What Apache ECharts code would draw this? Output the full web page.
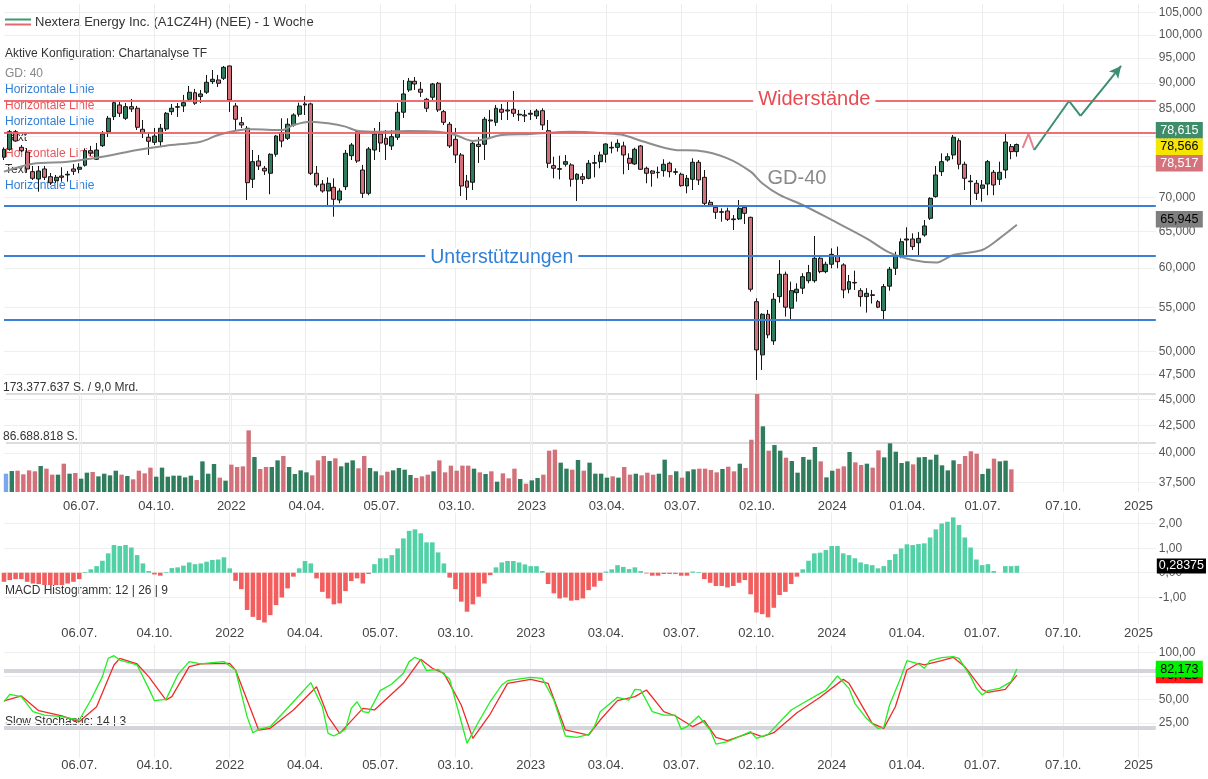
<!DOCTYPE html>
<html><head><meta charset="utf-8">
<script src="https://cdn.jsdelivr.net/npm/echarts@6/dist/echarts.min.js"></script>
<style>html,body{margin:0;padding:0;background:#fff}#c{width:1208px;height:779px}</style>
</head><body><div id="c"></div><script>
// ---------- categories (weekly) ----------
const startMonday = '2021-04-05';
const weekCount = 200;
const weeks = [];
{ const t0 = Date.parse(startMonday + 'T00:00:00Z');
  for (let i = 0; i < weekCount; i++) weeks.push(new Date(t0 + i * 7 * 86400000).toISOString().slice(0, 10)); }

const tickDates  = ['2021-07-05','2021-10-04','2022-01-03','2022-04-04','2022-07-04','2022-10-03','2023-01-02','2023-04-03','2023-07-03','2023-10-02','2024-01-01','2024-04-01','2024-07-01','2024-10-07','2025-01-06'];
const tickLabels = ['06.07.','04.10.','2022','04.04.','05.07.','03.10.','2023','03.04.','03.07.','02.10.','2024','01.04.','01.07.','07.10.','2025'];

// ---------- weekly candles [open, close, low, high] ----------
const candles = [
[76.46,77.81,76.01,78.15],[77.81,80.87,77.57,81.17],[80.87,79.24,79.12,81.17],[78.15,77.57,77.35,78.55],[77.35,74.53,74.04,78.04],
[74.09,73.02,72.75,75.02],[72.91,74.20,70.91,75.02],[74.53,73.18,72.75,75.02],[73.28,72.32,71.96,73.88],[72.64,73.18,72.28,73.56],
[73.39,73.18,72.48,74.81],[73.56,73.67,72.48,74.20],[74.53,74.15,73.56,75.35],[74.48,74.81,73.83,75.47],[75.14,77.57,74.91,77.98],
[77.57,77.18,76.68,78.38],[76.13,77.69,76.01,78.89],[78.43,80.47,78.20,80.99],[80.87,83.28,79.94,83.71],[83.58,86.18,82.97,86.50],
[85.75,84.20,83.52,86.31],[83.28,85.43,82.97,86.12],[85.43,85.00,84.44,86.88],[85.13,81.66,81.17,85.56],[81.30,80.59,79.76,82.97],
[79.89,79.19,76.85,80.82],[79.01,80.11,78.55,81.53],[79.12,81.48,78.20,82.25],[81.35,84.20,80.99,84.44],[84.50,85.13,83.89,85.94],
[85.32,85.43,83.52,86.12],[85.56,86.18,84.44,87.65],[86.82,88.17,86.50,89.39],[88.09,86.07,85.75,88.81],[87.33,87.84,86.12,88.61],
[88.17,90.12,87.84,91.57],[90.24,90.71,89.78,92.57],[90.57,89.92,89.19,91.57],[90.91,93.12,90.57,93.39],[93.39,86.69,84.44,93.50],
[85.56,83.10,81.17,86.12],[82.48,82.07,81.53,83.52],[81.48,72.32,69.63,81.89],[72.86,75.73,71.49,77.69],[75.84,75.02,74.36,76.85],
[74.64,74.20,73.56,75.02],[73.83,76.97,70.51,77.13],[76.97,80.11,76.56,80.29],[80.70,79.24,78.15,83.28],[79.71,82.20,79.41,83.28],
[82.07,83.89,81.77,84.20],[84.02,85.56,83.58,86.18],[85.75,85.94,83.89,87.46],[85.94,73.83,73.56,86.18],[73.83,71.96,71.60,75.02],
[72.10,71.02,70.76,72.75],[71.02,72.23,68.72,73.18],[71.60,69.74,67.13,73.02],[69.63,71.02,69.13,71.44],[71.69,77.13,71.17,77.69],
[76.73,78.55,76.01,78.89],[80.87,75.84,75.52,81.17],[74.36,70.66,69.94,75.19],[70.66,77.86,70.36,78.20],[77.69,80.47,76.01,81.53],
[80.47,78.89,77.35,82.61],[79.71,78.67,76.01,81.17],[78.38,79.99,77.69,81.17],[79.89,84.39,79.41,86.12],[84.39,87.84,83.34,90.57],
[88.61,90.32,88.22,90.97],[90.32,89.78,88.61,91.17],[88.75,88.17,87.27,90.18],[86.82,85.13,84.44,87.08],[87.21,89.78,86.69,89.98],
[89.92,84.81,84.44,90.18],[84.50,82.55,82.07,84.81],[82.20,78.38,78.04,82.61],[79.53,76.85,75.52,81.53],[76.85,71.80,70.25,77.18],
[72.59,71.60,69.63,73.56],[72.39,78.84,71.17,79.06],[78.67,78.30,75.52,79.94],[78.67,83.10,76.01,83.52],[82.97,82.79,79.76,84.81],
[82.55,85.13,81.89,85.75],[84.94,84.39,82.97,85.94],[84.81,84.62,82.97,86.31],[84.94,84.20,83.52,88.42],[83.89,84.02,82.79,84.81],
[83.89,83.71,82.61,84.81],[84.02,84.20,82.97,84.81],[83.71,84.62,83.15,85.00],[84.68,82.07,81.17,85.13],[81.05,75.47,74.69,82.97],
[75.07,74.64,73.02,76.56],[74.48,74.58,72.86,76.73],[75.30,75.73,74.91,76.85],[75.19,72.86,71.69,75.47],[72.86,73.67,69.48,73.83],
[73.28,72.86,72.12,73.83],[73.02,75.47,72.86,76.01],[75.47,75.57,73.18,76.85],[75.73,76.85,74.64,77.41],[76.97,78.72,75.57,78.84],
[78.15,78.04,77.13,79.12],[78.15,78.84,77.41,79.53],[78.38,76.85,73.67,79.12],[76.29,75.47,74.36,77.13],[75.35,77.81,75.19,78.09],
[78.38,74.48,74.36,78.55],[74.64,73.83,72.23,74.91],[74.20,73.83,71.69,74.36],[73.93,73.99,73.02,74.91],[74.25,75.30,73.28,76.13],
[75.47,74.09,73.18,75.73],[73.99,74.09,73.56,74.64],[73.67,71.85,71.69,73.93],[71.80,73.02,70.66,73.56],[72.86,75.63,71.17,76.29],
[75.63,72.75,71.96,76.01],[73.18,69.13,68.77,74.36],[69.28,68.87,68.77,69.63],[68.53,67.78,66.80,68.87],[67.78,67.87,66.40,68.37],
[67.97,66.75,66.50,68.47],[66.80,66.70,65.20,67.38],[66.80,68.37,66.65,69.63],[68.53,67.63,66.07,68.72],[67.04,57.27,56.97,67.13],
[55.73,50.14,46.95,56.14],[49.60,54.21,47.99,54.33],[54.21,51.82,51.44,54.73],[51.14,56.03,50.70,56.79],[56.35,59.18,55.61,61.06],
[59.18,55.06,53.94,59.52],[54.94,57.09,53.62,58.23],[56.84,57.27,55.73,58.02],[57.40,58.87,56.67,59.31],[58.35,59.39,58.02,60.40],
[58.35,61.29,58.09,64.35],[61.29,59.52,59.31,61.51],[59.52,60.49,59.31,60.83],[60.49,61.82,59.96,62.64],[61.60,60.83,59.96,62.87],
[60.40,57.18,56.15,60.62],[57.27,58.23,56.76,59.09],[58.13,58.06,57.18,59.65],[57.09,56.35,55.13,57.40],[56.35,56.76,54.41,57.40],
[56.58,56.50,55.50,57.18],[55.73,55.06,54.94,55.94],[54.65,57.60,53.62,57.94],[57.65,59.83,57.09,60.14],[59.96,61.60,59.09,62.17],
[61.60,63.55,61.29,64.02],[63.79,63.93,61.64,65.59],[63.93,62.87,62.41,64.72],[63.41,64.02,61.69,64.91],[64.49,65.78,64.25,66.65],
[66.90,69.89,66.65,70.05],[70.15,73.56,69.99,75.02],[74.09,75.73,73.39,77.13],[76.01,76.56,75.73,77.13],[76.85,79.89,76.13,80.29],
[79.29,75.30,74.48,79.71],[75.30,73.02,71.17,75.73],[72.59,72.48,68.87,73.56],[72.23,70.66,69.63,72.75],[71.44,71.96,69.37,72.75],
[72.12,75.73,70.36,76.01],[73.99,71.96,70.36,74.36],[72.86,73.99,71.96,75.73],[74.36,79.06,73.02,80.47],[78.27,77.41,76.13,78.72],
[77.41,78.62,76.56,78.80]
];

// ---------- weekly volume (million shares) ----------
const volumes = [
32.4,37.1,37.7,31.3,38.3,36.6,46.0,41.3,30.7,30.7,
50.1,32.4,33.6,23.6,34.2,35.4,27.7,32.4,29.5,37.7,
30.7,28.3,22.4,37.7,33.0,43.1,27.1,43.1,27.1,28.9,
28.9,25.9,28.9,21.2,54.2,32.4,49.5,25.4,20.1,48.4,
44.2,45.4,109.1,61.9,40.7,44.2,44.2,56.0,63.7,44.2,
31.8,38.3,34.8,29.5,56.0,63.7,54.8,59.6,45.4,51.9,
56.0,41.9,63.7,42.5,36.6,29.5,35.9,38.3,42.5,39.5,
30.1,24.8,27.7,30.7,36.6,56.0,34.8,46.6,37.7,46.6,
46.6,41.3,34.8,31.8,36.6,18.3,33.0,24.2,41.3,23.0,
14.7,20.6,24.8,30.7,73.1,74.9,51.9,41.3,39.5,56.6,
37.7,51.9,32.4,32.4,25.4,27.7,25.4,44.2,30.7,32.4,
29.5,34.2,30.7,32.4,57.2,30.1,36.6,25.4,36.6,40.1,
41.3,41.3,38.9,34.8,40.7,44.8,36.6,50.1,42.5,92.5,
173.377637,116.2,73.1,83.1,73.1,60.7,54.8,34.2,61.9,57.2,
79.6,54.2,25.9,37.7,41.3,45.4,70.8,52.5,47.8,50.1,
43.1,73.7,61.3,86.1,71.3,51.3,54.2,48.9,61.3,61.9,
57.2,66.0,47.2,38.3,56.0,49.5,63.7,72.0,67.8,31.8,
41.3,59.0,54.2,55.4,40.1
];

// ---------- MACD histogram (12|26|9) ----------
const macdHist = [
-0.37,-0.30,-0.26,-0.26,-0.37,-0.44,-0.46,-0.50,-0.50,-0.50,
-0.50,-0.44,-0.37,-0.26,0.03,0.14,0.27,0.49,0.79,1.13,
1.09,1.13,1.03,0.72,0.38,0.07,-0.07,-0.12,0.03,0.19,
0.22,0.29,0.42,0.35,0.38,0.45,0.52,0.54,0.63,0.18,
-0.33,-0.67,-1.52,-1.80,-1.93,-2.03,-1.73,-1.32,-1.01,-0.64,
-0.16,0.18,0.48,0.38,-0.23,-0.78,-1.05,-1.29,-1.25,-0.75,
-0.34,-0.23,-0.44,-0.05,0.35,0.59,0.59,0.72,0.99,1.40,
1.71,1.77,1.61,1.24,1.24,0.83,0.38,-0.20,-0.67,-1.18,
-1.59,-1.29,-0.98,-0.44,-0.10,0.22,0.42,0.48,0.48,0.42,
0.34,0.27,0.27,0.07,-0.46,-0.84,-1.05,-1.01,-1.14,-1.12,
-1.05,-0.71,-0.57,-0.33,0.05,0.14,0.31,0.24,0.15,0.22,
0.07,-0.03,-0.12,-0.12,-0.05,-0.05,-0.05,-0.12,-0.12,0.05,
0.03,-0.26,-0.41,-0.54,-0.54,-0.60,-0.54,-0.41,-0.30,-0.88,
-1.62,-1.69,-1.82,-1.43,-0.91,-0.78,-0.46,-0.16,0.14,0.49,
0.79,0.82,0.93,1.09,1.09,0.79,0.72,0.59,0.42,0.35,
0.31,0.18,0.27,0.52,0.76,0.99,1.16,1.13,1.17,1.20,
1.44,1.77,2.01,2.08,2.26,1.95,1.44,1.03,0.54,0.31,
0.35,0.07,null,0.27,0.27,0.28375
];

// ---------- GD-40 (week index, value) ----------
const gd40 = [[0,74.09],[5,75.40],[11,75.73],[17,76.56],[23,77.69],[28,78.43],[34,79.12],[37,80.29],[40,81.05],[43,81.30],
[48,81.17],[50,82.07],[53,82.67],[56,82.37],[59,81.77],[61,81.05],[65,80.87],[70,80.99],[75,80.87],[78,80.29],
[81,79.24],[83,79.53],[86,80.29],[91,80.47],[98,80.87],[104,80.59],[107,80.29],[110,79.29],[116,77.69],[120,77.57],
[125,76.29],[129,74.09],[131,72.23],[134,70.40],[138,68.87],[143,66.65],[149,64.02],[153,62.04],[157,61.06],[161,60.71],
[164,61.73],[169,62.41],[172,64.02],[175,65.945]];

// ---------- Slow Stochastic 14|3 (week index, value) ----------
const stochK = [[0,47.4],[1,55.3],[3,52.8],[5,36.8],[7,33.2],[10,31.5],[13,27.9],[15,49.2],[17,74.1],[18,93.6],
[19,96.4],[20,91.8],[23,86.5],[25,61.6],[26,48.5],[28,49.9],[30,75.9],[32,90.1],[34,87.6],[36,89.0],
[38,90.1],[40,81.2],[42,31.5],[43,14.4],[44,18.0],[46,20.8],[50,47.4],[53,67.7],[55,42.1],[56,13.7],
[57,10.9],[59,18.0],[60,40.3],[61,47.4],[62,36.8],[63,35.7],[65,59.2],[67,66.3],[69,77.6],[70,90.1],
[71,94.7],[72,91.8],[73,80.5],[75,81.9],[77,71.2],[79,26.1],[80,3.1],[82,26.1],[84,47.4],[86,65.2],
[87,69.8],[91,73.4],[93,72.3],[95,49.2],[97,10.9],[99,9.4],[101,12.6],[102,20.8],[103,36.8],[106,52.1],
[108,49.2],[109,60.6],[110,59.9],[112,36.8],[114,33.2],[116,33.2],[117,18.0],[118,20.8],[120,32.2],[122,17.3],
[123,2.3],[125,4.8],[129,15.5],[130,8.4],[132,12.6],[136,38.6],[138,45.7],[141,56.3],[142,59.9],[144,74.8],
[146,61.6],[147,45.7],[149,29.7],[151,19.0],[152,20.1],[153,43.9],[155,74.1],[156,91.1],[158,87.6],[159,83.0],
[160,91.1],[162,94.3],[164,95.4],[165,93.6],[167,74.1],[168,61.6],[169,54.5],[170,59.2],[172,61.6],[174,68.8],[175,82.173]];
const stochD = [[0,48.2],[3,53.5],[6,37.9],[10,32.2],[13,26.1],[16,42.1],[19,86.5],[20,93.6],[23,87.6],[25,74.1],
[28,49.2],[29,52.8],[32,84.7],[34,87.6],[39,88.3],[40,81.2],[44,17.3],[46,19.1],[50,38.6],[54,63.4],
[56,31.5],[58,13.7],[62,40.3],[64,38.6],[69,67.0],[72,92.5],[74,83.0],[76,77.6],[79,43.9],[81,8.4],
[84,34.3],[87,67.0],[91,71.2],[94,67.0],[97,17.3],[101,11.9],[103,27.9],[106,48.5],[109,52.8],[111,59.9],
[114,36.8],[116,32.2],[119,20.8],[121,27.2],[123,9.4],[125,5.9],[129,14.4],[131,10.2],[133,14.4],[137,35.7],
[141,52.1],[145,71.2],[146,67.0],[150,24.4],[152,19.0],[154,42.1],[156,81.2],[158,88.3],[159,86.5],[162,91.1],
[164,94.7],[166,84.7],[169,60.6],[170,57.4],[173,60.6],[175,75.723]];

// ---------- levels, ticks, tags ----------
const resistanceLevels = [86.69, 80.59];
const supportLevels = [68.72, 61.36, 53.54];
const priceTicks = [37.5,40,42.5,45,47.5,50,55,60,65,70,75,80,85,90,95,100,105];
const priceTags = [78.615, 78.566, 78.517];
const gdLast = 65.945;
const macdLast = 0.28375;
const stochLastK = 82.173, stochLastD = 75.723;
const volumeTicks = [86.688818, 173.377637];
const volumeTickLabels = ['86.688.818 S.', '173.377.637 S. / 9,0 Mrd.'];
const macdTicks = [-1, 0, 1, 2];
const stochTicks = [25, 50, 75, 100];
const stochBands = [80, 20];
const planRed = [[176,78.04],[177,80.47],[178,77.69]];
const planGreen = [[178,77.69],[184,86.50],[186,83.71]];
const planArrow = [[186,83.71],[193,93.39]];

// ---------- helpers ----------
const L = Math.log;
const fmt = (v, d) => v.toFixed(d).replace('.', ',');
const isTick = (idx, val) => tickDates.indexOf(val) >= 0;
const tickText = (val) => { const k = tickDates.indexOf(val); return k >= 0 ? tickLabels[k] : ''; };
const FONT = '"Liberation Sans", Arial, Helvetica, sans-serif';
const UP = '#2f7d5d', DOWN = '#d2717a';
const CLEAR = 'rgba(0,0,0,0)';
const GRID_L = 4, GRID_W = 1151.8;

const chart = echarts.init(document.getElementById('c'), null, {renderer: 'canvas'});

function xAxis(gi, showLabel, margin) {
  return {type: 'category', gridIndex: gi, data: weeks, boundaryGap: false,
    axisLine: {show: false}, axisTick: {show: false},
    axisLabel: {show: showLabel, interval: isTick, formatter: tickText, color: '#444', fontSize: 13, margin: margin, fontFamily: FONT},
    splitLine: {show: true, interval: isTick, lineStyle: {color: '#ececec', width: 1}}};
}

const txt = (x, y, text, color, size) => ({type: 'text', x: x, y: y, z: 0,
  style: {text: text, fill: color, font: size + 'px ' + FONT, verticalAlign: 'middle', align: 'left'}});

const tagRich = (bg, fg) => ({backgroundColor: bg, color: fg, width: 47, height: 16.5, lineHeight: 16.5, align: 'center', fontSize: 12.5, fontFamily: FONT});
const hidden = {color: CLEAR, width: 0, opacity: 1};

const option = {
  animation: false,
  textStyle: {fontFamily: FONT},
  grid: [
    {left: GRID_L, width: GRID_W, top: 4, height: 488},
    {left: GRID_L, width: GRID_W, top: 394, height: 98},
    {left: GRID_L, width: GRID_W, top: 512.7, height: 111.5},
    {left: GRID_L, width: GRID_W, top: 644.8, height: 112.7}
  ],
  xAxis: [xAxis(0, false, 0), xAxis(1, true, 7.5), xAxis(2, true, 2.5), xAxis(3, true, 1)],
  yAxis: [
    {type: 'value', gridIndex: 0, position: 'right', min: L(36.73), max: L(106.97),
      axisLine: {show: false}, axisTick: {show: false, customValues: priceTicks.map(L)},
      axisLabel: {customValues: priceTicks.map(L), formatter: v => fmt(Math.exp(v), 3), color: '#555', fontSize: 12, margin: 3},
      splitLine: {show: true, lineStyle: {color: '#efefef'}}},
    {type: 'value', gridIndex: 1, position: 'left', min: 0, max: volumeTicks[1],
      axisLine: {show: false}, axisTick: {show: false, customValues: volumeTicks},
      axisLabel: {inside: true, customValues: volumeTicks, margin: -3, verticalAlign: 'bottom', color: '#333', fontSize: 12,
        formatter: v => volumeTickLabels[volumeTicks.findIndex(t => Math.abs(t - v) < 1e-6)] || ''},
      splitLine: {show: true, lineStyle: {color: '#dcdcdc', width: 2}}},
    {type: 'value', gridIndex: 2, position: 'right', min: -2.1, max: 2.45,
      axisLine: {show: false}, axisTick: {show: false, customValues: macdTicks},
      axisLabel: {customValues: macdTicks, formatter: v => fmt(v, 2), color: '#555', fontSize: 12, margin: 3},
      splitLine: {show: true, lineStyle: {color: '#efefef'}}},
    {type: 'value', gridIndex: 3, position: 'right', min: -12, max: 108,
      axisLine: {show: false}, axisTick: {show: false, customValues: stochTicks},
      axisLabel: {customValues: stochTicks, formatter: v => fmt(v, 2), color: '#555', fontSize: 12, margin: 3},
      splitLine: {show: true, lineStyle: {color: '#efefef'}}}
  ],
  series: [
    {type: 'bar', name: 'Volumen', xAxisIndex: 1, yAxisIndex: 1, barWidth: 4.4, clip: false,
      data: volumes,
      itemStyle: {color: p => p.dataIndex === 0 ? '#79a6ee' : (candles[p.dataIndex][1] >= candles[p.dataIndex][0] ? UP : DOWN)}},
    {type: 'line', name: 'GD-40', xAxisIndex: 0, yAxisIndex: 0, symbol: 'none', smooth: 0.3,
      data: gd40.map(([i, v]) => [weeks[i], L(v)]),
      lineStyle: {color: '#8d8d8d', width: 2},
      markLine: {silent: true, symbol: ['none', 'none'], animation: false, z: 8,
        data: [{yAxis: L(gdLast), lineStyle: hidden,
          label: {show: true, position: 'end', distance: 0, padding: [0, 0, 10, 0], formatter: '{a|' + fmt(gdLast, 3) + '}', rich: {a: tagRich('#7f7f7f', '#000')}}}]}},
    {type: 'candlestick', name: 'NEE', xAxisIndex: 0, yAxisIndex: 0, barWidth: 4.4, clip: false,
      data: candles.map(r => r.map(L)),
      itemStyle: {color: UP, color0: DOWN, borderColor: '#151515', borderColor0: '#151515', borderWidth: 1},
      markLine: {silent: true, symbol: ['none', 'none'], animation: false,
        data: [
          ...resistanceLevels.map(v => ({yAxis: L(v), lineStyle: {color: '#ec6166', width: 2.2, type: 'solid', opacity: 0.9}, label: {show: false}})),
          ...supportLevels.map(v => ({yAxis: L(v), lineStyle: {color: '#3a80d6', width: 2, type: 'solid'}, label: {show: false}})),
          {yAxis: L(priceTags[1]), lineStyle: hidden,
            label: {show: true, position: 'end', distance: 0,
              formatter: '{g|' + fmt(priceTags[0], 3) + '}\n{y|' + fmt(priceTags[1], 3) + '}\n{r|' + fmt(priceTags[2], 3) + '}',
              rich: {g: tagRich('#3e8c6a', '#fff'), y: tagRich('#f5e500', '#000'), r: tagRich('#d4737c', '#fff')}}}
        ]},
      markPoint: {silent: true, animation: false, z: 6, symbol: 'rect', symbolSize: 1, itemStyle: {color: CLEAR},
        data: [
          {coord: [weeks[140], L(resistanceLevels[0])], label: {show: true, position: 'inside', formatter: 'Widerstände', color: '#e84a50', fontSize: 20, backgroundColor: '#fff', padding: [0, 5]}},
          {coord: [weeks[86], L(supportLevels[1])], label: {show: true, position: 'inside', formatter: 'Unterstützungen', color: '#2f7fd8', fontSize: 19.5, backgroundColor: '#fff', padding: [0, 5]}},
          {coord: [weeks[137], L(73.07)], label: {show: true, position: 'inside', formatter: 'GD-40', color: '#8a8a8a', fontSize: 20}}
        ]}},
    {type: 'line', name: 'Plan rot', xAxisIndex: 0, yAxisIndex: 0, symbol: 'none',
      data: planRed.map(([i, v]) => [weeks[i], L(v)]), lineStyle: {color: '#e8828a', width: 2}},
    {type: 'line', name: 'Plan grün', xAxisIndex: 0, yAxisIndex: 0, symbol: 'none',
      data: planGreen.map(([i, v]) => [weeks[i], L(v)]), lineStyle: {color: '#3b8f72', width: 2},
      markLine: {silent: true, animation: false, symbol: ['none', 'arrow'], symbolSize: [9, 12],
        lineStyle: {color: '#3b8f72', width: 2, type: 'solid'}, label: {show: false},
        data: [[{coord: [weeks[planArrow[0][0]], L(planArrow[0][1])]}, {coord: [weeks[planArrow[1][0]], L(planArrow[1][1])]}]]}},
    {type: 'bar', name: 'MACD', xAxisIndex: 2, yAxisIndex: 2, barWidth: 4.6, clip: false,
      data: macdHist,
      itemStyle: {color: p => p.value >= 0 ? '#52d1a6' : '#f25d5d'},
      markLine: {silent: true, symbol: ['none', 'none'], animation: false,
        data: [{yAxis: macdLast, lineStyle: hidden,
          label: {show: true, position: 'end', distance: 1, formatter: '{a|' + fmt(macdLast, 5) + '}',
            rich: {a: {backgroundColor: '#000', color: '#fff', padding: [1, 2], fontSize: 12.5, lineHeight: 15, fontFamily: FONT}}}}]}},
    {type: 'line', name: '%D', xAxisIndex: 3, yAxisIndex: 3, symbol: 'none',
      data: stochD.map(([i, v]) => [weeks[i], v]), lineStyle: {color: '#f02a2a', width: 1.3},
      markLine: {silent: true, symbol: ['none', 'none'], animation: false, z: 1,
        data: stochBands.map(v => ({yAxis: v, lineStyle: {color: '#d4d4db', width: 4, type: 'solid'}, label: {show: false}}))}},
    {type: 'line', name: '%K', xAxisIndex: 3, yAxisIndex: 3, symbol: 'none',
      data: stochK.map(([i, v]) => [weeks[i], v]), lineStyle: {color: '#22ee22', width: 1.3},
      markLine: {silent: true, symbol: ['none', 'none'], animation: false, z: 8,
        data: [
          {yAxis: stochLastD, lineStyle: hidden,
            label: {show: true, position: 'end', distance: 0, formatter: '{a|' + fmt(stochLastD, 3) + '}', rich: {a: tagRich('#ff1a1a', '#000')}}},
          {yAxis: stochLastK, lineStyle: hidden,
            label: {show: true, position: 'end', distance: 0, formatter: '{a|' + fmt(stochLastK, 3) + '}', rich: {a: tagRich('#00f000', '#000')}}}
        ]}}
  ],
  graphic: [
    {type: 'line', z: 0, shape: {x1: 5, y1: 19.5, x2: 31, y2: 19.5}, style: {stroke: '#3d9873', lineWidth: 2}},
    {type: 'line', z: 0, shape: {x1: 5, y1: 24.5, x2: 31, y2: 24.5}, style: {stroke: '#e06a70', lineWidth: 2}},
    txt(35, 22.5, 'Nextera Energy Inc. (A1CZ4H) (NEE) - 1 Woche', '#333', 13),
    txt(5, 53.5, 'Aktive Konfiguration: Chartanalyse TF', '#333', 12),
    txt(5, 73.5, 'GD: 40', '#888', 12),
    txt(5, 90, 'Horizontale Linie', '#2f7fd8', 12),
    txt(5, 106, 'Horizontale Linie', '#e8575c', 12),
    txt(5, 122, 'Horizontale Linie', '#2f7fd8', 12),
    txt(5, 138, 'Text', '#333', 12),
    txt(5, 154, 'Horizontale Linie', '#e8575c', 12),
    txt(5, 170, 'Text', '#333', 12),
    txt(5, 186, 'Horizontale Linie', '#2f7fd8', 12),
    txt(5, 590.5, 'MACD Histogramm: 12 | 26 | 9', '#333', 12),
    txt(5, 721.5, 'Slow Stochastic: 14 | 3', '#333', 12)
  ]
};
chart.setOption(option);
</script></body></html>
